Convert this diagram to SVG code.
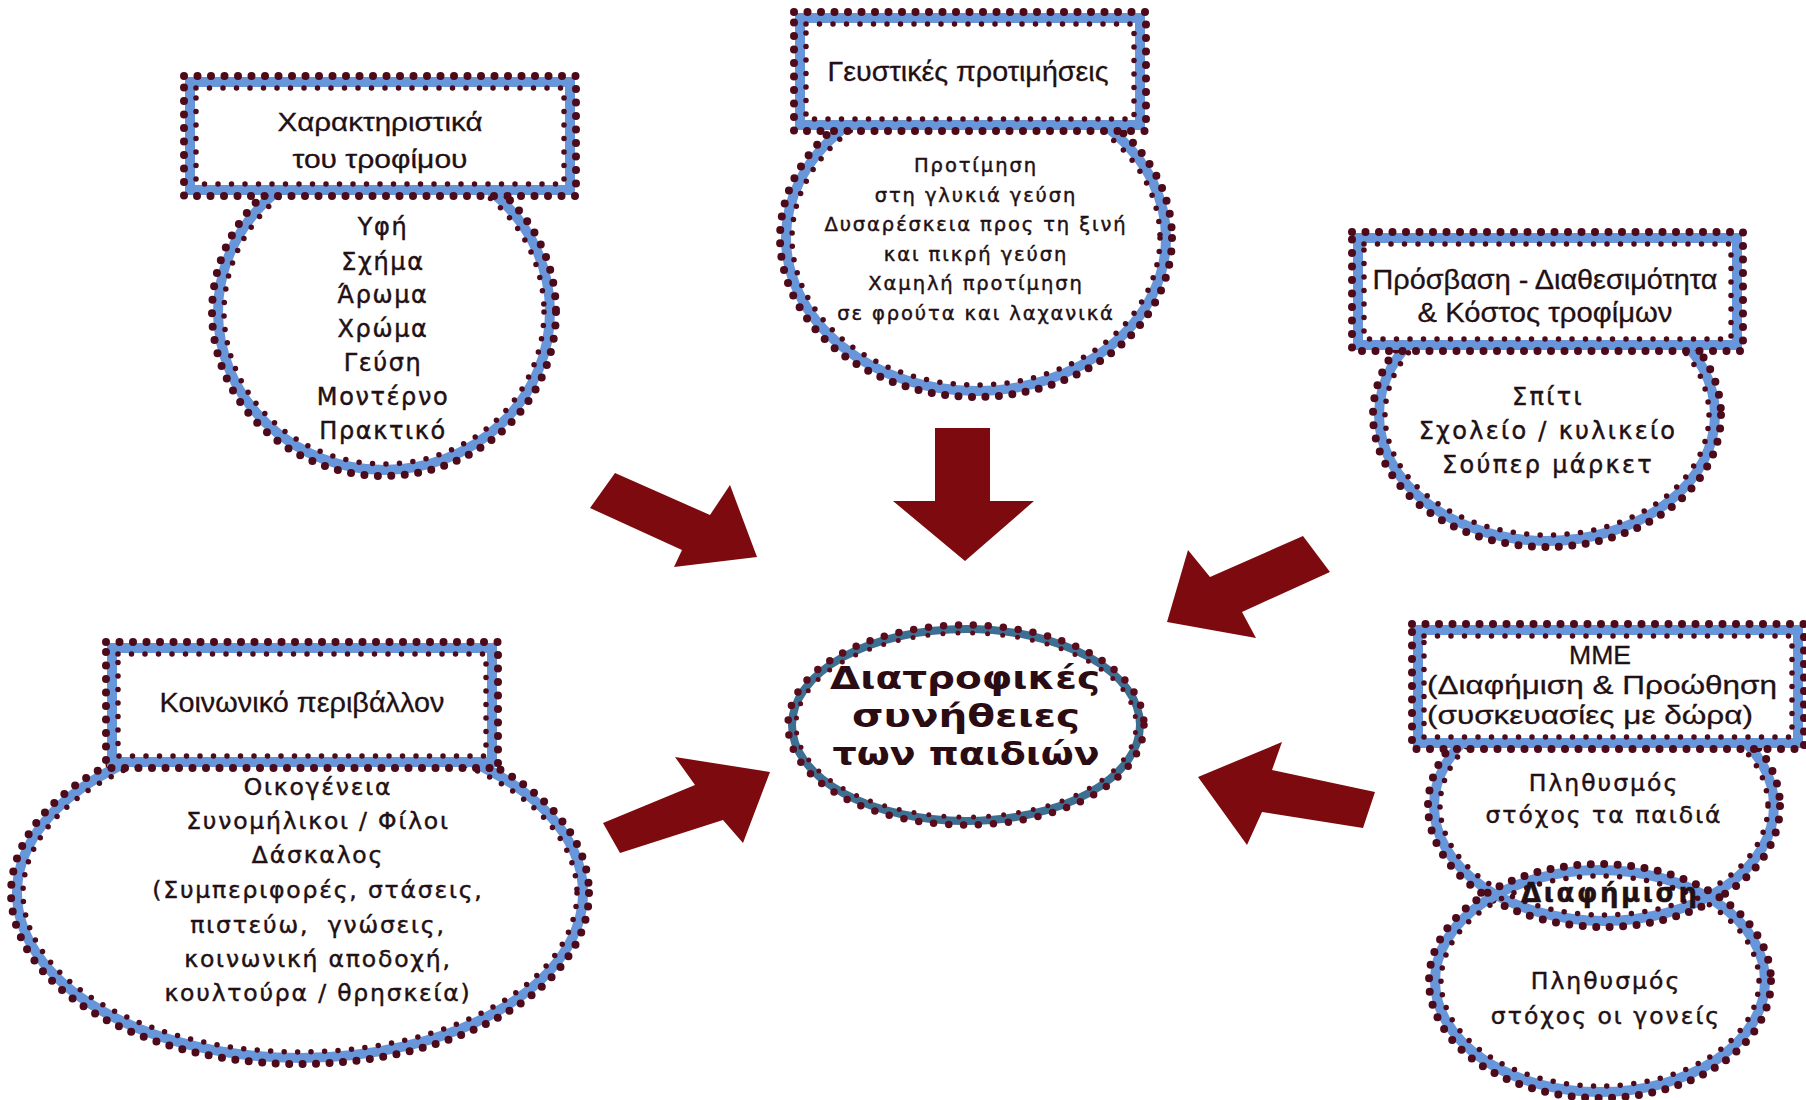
<svg xmlns="http://www.w3.org/2000/svg" width="1806" height="1100" viewBox="0 0 1806 1100">
<defs>
<style>
.band{fill:#fff;stroke:#6896da;stroke-width:10}
.bandn{fill:none;stroke:#6896da;stroke-width:10}
.fillw{fill:#fff;stroke:none}
.dout{fill:none;stroke:#4d0a1a;stroke-width:8;stroke-linecap:round;stroke-dasharray:0 13.5}
.din{fill:none;stroke:#4d0a1a;stroke-width:5.5;stroke-linecap:round;stroke-dasharray:0 13.5}
.cband{fill:#fff;stroke:#3d6f93;stroke-width:8}
.cdout{fill:none;stroke:#5a0c1c;stroke-width:7.5;stroke-linecap:round;stroke-dasharray:0 15}
.cdin{fill:none;stroke:#5a0c1c;stroke-width:5;stroke-linecap:round;stroke-dasharray:0 15;stroke-dashoffset:7.5}
.hd{font-family:"Liberation Sans",Arial,sans-serif;fill:#221014;stroke:#221014;stroke-width:0.3;text-anchor:middle}
.bd{font-family:"DejaVu Sans","Noto Sans",sans-serif;fill:#221014;stroke:#221014;stroke-width:0.45;text-anchor:middle}
.ct{font-family:"DejaVu Sans","Noto Sans",sans-serif;font-weight:bold;font-size:31px;fill:#2a0c12;text-anchor:middle}
.arrow{fill:#7d0a0e}
</style>
</defs>
<rect x="0" y="0" width="1806" height="1100" fill="#fff"/>

<g id="connectors">
<polygon class="arrow" points="615,473 710,515 730,485 757,557 674,567 682,550 590,508"/>
<polygon class="arrow" points="935,428 990,428 990,501 1034,501 965,561 893,501 935,501"/>
<polygon class="arrow" points="1303,536 1330,572 1242,612 1256,638 1167,622 1188,550 1210,577"/>
<polygon class="arrow" points="603,823 695,785 675,757 770,772 743,843 723,820 620,853"/>
<polygon class="arrow" points="1198,777 1282,742 1272,770 1375,792 1363,828 1262,812 1247,845"/>
</g>

<g id="node-characteristics">
<ellipse class="band" cx="384" cy="312" rx="166" ry="158"/>
<ellipse class="dout" cx="384" cy="312" rx="172" ry="164"/>
<ellipse class="din" cx="384" cy="312" rx="160" ry="152"/>
<rect class="band" x="190" y="82" width="380" height="108"/>
<rect class="dout" x="184" y="76" width="392" height="120"/>
<rect class="din" x="196" y="88" width="368" height="96"/>
<text class="hd" font-size="26" x="380" y="131" textLength="205" lengthAdjust="spacingAndGlyphs">Χαρακτηριστικά</text>
<text class="hd" font-size="26" x="380" y="168" textLength="175" lengthAdjust="spacingAndGlyphs">του τροφίμου</text>
<g class="bd" font-size="24" letter-spacing="1.6">
<text x="383" y="235">Υφή</text>
<text x="383" y="270">Σχήμα</text>
<text x="383" y="303">Άρωμα</text>
<text x="383" y="337">Χρώμα</text>
<text x="383" y="371">Γεύση</text>
<text x="383" y="405">Μοντέρνο</text>
<text x="383" y="439">Πρακτικό</text>
</g>
</g>

<g id="node-taste">
<ellipse class="band" cx="976" cy="238" rx="190" ry="153"/>
<ellipse class="dout" cx="976" cy="238" rx="196" ry="159"/>
<ellipse class="din" cx="976" cy="238" rx="184" ry="147"/>
<rect class="band" x="800" y="18" width="340" height="107"/>
<rect class="dout" x="794" y="12" width="352" height="119"/>
<rect class="din" x="806" y="24" width="328" height="95"/>
<text class="hd" font-size="28" x="968" y="81" textLength="281" lengthAdjust="spacingAndGlyphs">Γευστικές προτιμήσεις</text>
<g class="bd" font-size="19.5" letter-spacing="1.9">
<text x="976" y="172">Προτίμηση</text>
<text x="976" y="202">στη γλυκιά γεύση</text>
<text x="976" y="231">Δυσαρέσκεια προς τη ξινή</text>
<text x="976" y="261">και πικρή γεύση</text>
<text x="976" y="290">Χαμηλή προτίμηση</text>
<text x="976" y="320">σε φρούτα και λαχανικά</text>
</g>
</g>

<g id="node-access">
<ellipse class="band" cx="1547" cy="415" rx="168" ry="126"/>
<ellipse class="dout" cx="1547" cy="415" rx="174" ry="132"/>
<ellipse class="din" cx="1547" cy="415" rx="162" ry="120"/>
<rect class="band" x="1358" y="238" width="379" height="107"/>
<rect class="dout" x="1352" y="232" width="391" height="119"/>
<rect class="din" x="1364" y="244" width="367" height="95"/>
<text class="hd" font-size="27" x="1545" y="289" textLength="345" lengthAdjust="spacingAndGlyphs">Πρόσβαση - Διαθεσιμότητα</text>
<text class="hd" font-size="27" x="1545" y="322" textLength="255" lengthAdjust="spacingAndGlyphs">&amp; Κόστος τροφίμων</text>
<g class="bd" font-size="24" letter-spacing="2.3">
<text x="1548" y="405">Σπίτι</text>
<text x="1548" y="439">Σχολείο / κυλικείο</text>
<text x="1548" y="473">Σούπερ μάρκετ</text>
</g>
</g>

<g id="node-social">
<ellipse class="band" cx="300" cy="893" rx="283" ry="165"/>
<ellipse class="dout" cx="300" cy="893" rx="289" ry="171"/>
<ellipse class="din" cx="300" cy="893" rx="277" ry="159"/>
<rect class="band" x="112" y="648" width="380" height="114"/>
<rect class="dout" x="106" y="642" width="392" height="126"/>
<rect class="din" x="118" y="654" width="368" height="102"/>
<text class="hd" font-size="27" x="302" y="712" textLength="285" lengthAdjust="spacingAndGlyphs">Κοινωνικό περιβάλλον</text>
<g class="bd" font-size="23.5" letter-spacing="1.8">
<text x="318" y="795">Οικογένεια</text>
<text x="318" y="829">Συνομήλικοι / Φίλοι</text>
<text x="318" y="863">Δάσκαλος</text>
<text x="318" y="898">(Συμπεριφορές, στάσεις,</text>
<text x="318" y="933" xml:space="preserve">πιστεύω,  γνώσεις,</text>
<text x="318" y="967">κοινωνική αποδοχή,</text>
<text x="318" y="1001">κουλτούρα / θρησκεία)</text>
</g>
</g>

<g id="node-media">
<ellipse class="fillw" cx="1604" cy="806" rx="170" ry="115"/>
<ellipse class="fillw" cx="1600" cy="981" rx="165" ry="111"/>
<ellipse class="bandn" cx="1604" cy="806" rx="170" ry="115"/>
<ellipse class="dout" cx="1604" cy="806" rx="176" ry="121"/>
<ellipse class="din" cx="1604" cy="806" rx="164" ry="109"/>
<ellipse class="bandn" cx="1600" cy="981" rx="165" ry="111"/>
<ellipse class="dout" cx="1600" cy="981" rx="171" ry="117"/>
<ellipse class="din" cx="1600" cy="981" rx="159" ry="105"/>
<rect class="band" x="1418" y="630" width="380" height="113"/>
<rect class="dout" x="1412" y="624" width="392" height="125"/>
<rect class="din" x="1424" y="636" width="368" height="101"/>
<text class="hd" font-size="25" x="1600" y="664" textLength="62" lengthAdjust="spacingAndGlyphs">MME</text>
<text class="hd" font-size="25" x="1602" y="694" textLength="350" lengthAdjust="spacingAndGlyphs">(Διαφήμιση &amp; Προώθηση</text>
<text class="hd" font-size="25" x="1590" y="724" textLength="326" lengthAdjust="spacingAndGlyphs">(συσκευασίες με δώρα)</text>
<g class="bd" font-size="23.5" letter-spacing="2">
<text x="1604" y="791">Πληθυσμός</text>
<text x="1604" y="823">στόχος τα παιδιά</text>
<text x="1606" y="989">Πληθυσμός</text>
<text x="1606" y="1024">στόχος οι γονείς</text>
</g>
<text class="bd" font-size="26" font-weight="bold" stroke-width="0.2" x="1609" y="902" textLength="176" lengthAdjust="spacing">Διαφήμιση</text>
</g>

<g id="node-center">
<ellipse class="cband" cx="966" cy="725" rx="174" ry="96"/>
<ellipse class="cdout" cx="966" cy="725" rx="178" ry="100"/>
<ellipse class="cdin" cx="966" cy="725" rx="170" ry="92"/>
<text class="ct" x="965" y="689" textLength="270" lengthAdjust="spacingAndGlyphs">Διατροφικές</text>
<text class="ct" x="966" y="727" textLength="228" lengthAdjust="spacingAndGlyphs">συνήθειες</text>
<text class="ct" x="966" y="765" textLength="267" lengthAdjust="spacingAndGlyphs">των παιδιών</text>
</g>
</svg>
